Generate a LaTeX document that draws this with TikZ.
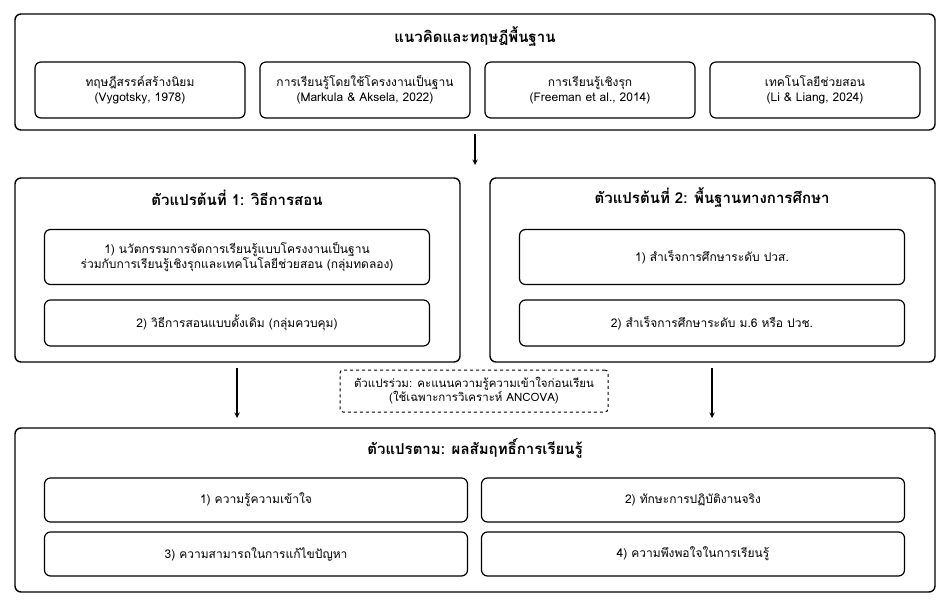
\documentclass[tikz,border=0pt]{standalone}
\usepackage{fontspec}
\setmainfont[Script=Thai]{Loma}
\begin{document}
\begin{tikzpicture}[x=1pt,y=-1pt,
 outer/.style={draw,line width=1.4pt,rounded corners=6pt},
 inner/.style={draw,line width=1.2pt,rounded corners=6pt,align=center,font=\fontsize{12}{15}\selectfont},
 ttl/.style={font=\fontsize{15}{17}\bfseries\selectfont},
 arr/.style={-stealth,line width=1.4pt}]
\useasboundingbox (0,0) rectangle (950,602);
\draw[outer] (15,14) rectangle (935,130);
\node[ttl] (t0) at (475,37) {แนวคิดและทฤษฎีพื้นฐาน};
\node[inner,minimum width=210pt,minimum height=56pt] (a1) at (140,90) {ทฤษฎีสรรค์สร้างนิยม\\(Vygotsky, 1978)};
\node[inner,minimum width=210pt,minimum height=56pt] (a2) at (365,90) {การเรียนรู้โดยใช้โครงงานเป็นฐาน\\(Markula \& Aksela, 2022)};
\node[inner,minimum width=210pt,minimum height=56pt] (a3) at (590,90) {การเรียนรู้เชิงรุก\\(Freeman et al., 2014)};
\node[inner,minimum width=210pt,minimum height=56pt] (a4) at (815,90) {เทคโนโลยีช่วยสอน\\(Li \& Liang, 2024)};
\coordinate (p0) at (475,134); \coordinate (p1) at (475,165);
\draw[arr] (p0)--(p1);
\draw[outer] (15,178) rectangle (460,362);
\node[ttl] (t1) at (237,198) {ตัวแปรต้นที่ 1: วิธีการสอน};
\node[inner,minimum width=385pt,minimum height=55pt] (b1) at (237,257) {1) นวัตกรรมการจัดการเรียนรู้แบบโครงงานเป็นฐาน\\ร่วมกับการเรียนรู้เชิงรุกและเทคโนโลยีช่วยสอน (กลุ่มทดลอง)};
\node[inner,minimum width=385pt,minimum height=46pt] (b2) at (237,323) {2) วิธีการสอนแบบดั้งเดิม (กลุ่มควบคุม)};
\draw[outer] (490,178) rectangle (935,362);
\node[ttl] (t2) at (712,198) {ตัวแปรต้นที่ 2: พื้นฐานทางการศึกษา};
\node[inner,minimum width=385pt,minimum height=55pt] (c1) at (712,257) {1) สำเร็จการศึกษาระดับ ปวส.};
\node[inner,minimum width=385pt,minimum height=46pt] (c2) at (712,323) {2) สำเร็จการศึกษาระดับ ม.6 หรือ ปวช.};
\node[draw,dashed,line width=1pt,rounded corners=3pt,align=center,minimum width=268pt,minimum height=42pt,inner sep=2pt,font=\fontsize{11.5}{14}\selectfont] (cv) at (474,391) {ตัวแปรร่วม: คะแนนความรู้ความเข้าใจก่อนเรียน\\(ใช้เฉพาะการวิเคราะห์ ANCOVA)};
\coordinate (l0) at (237,368); \coordinate (l1) at (237,418);
\coordinate (r0) at (712,368); \coordinate (r1) at (712,418);
\draw[arr] (l0)--(l1); \draw[arr] (r0)--(r1);
\draw[outer] (15,428) rectangle (935,592);
\node[ttl] (t3) at (475,448) {ตัวแปรตาม: ผลสัมฤทธิ์การเรียนรู้};
\node[inner,minimum width=423pt,minimum height=44pt] (d1) at (256,500) {1) ความรู้ความเข้าใจ};
\node[inner,minimum width=423pt,minimum height=44pt] (d2) at (693,500) {2) ทักษะการปฏิบัติงานจริง};
\node[inner,minimum width=423pt,minimum height=44pt] (d3) at (256,554) {3) ความสามารถในการแก้ไขปัญหา};
\node[inner,minimum width=423pt,minimum height=44pt] (d4) at (693,554) {4) ความพึงพอใจในการเรียนรู้};
\end{tikzpicture}
\end{document}
